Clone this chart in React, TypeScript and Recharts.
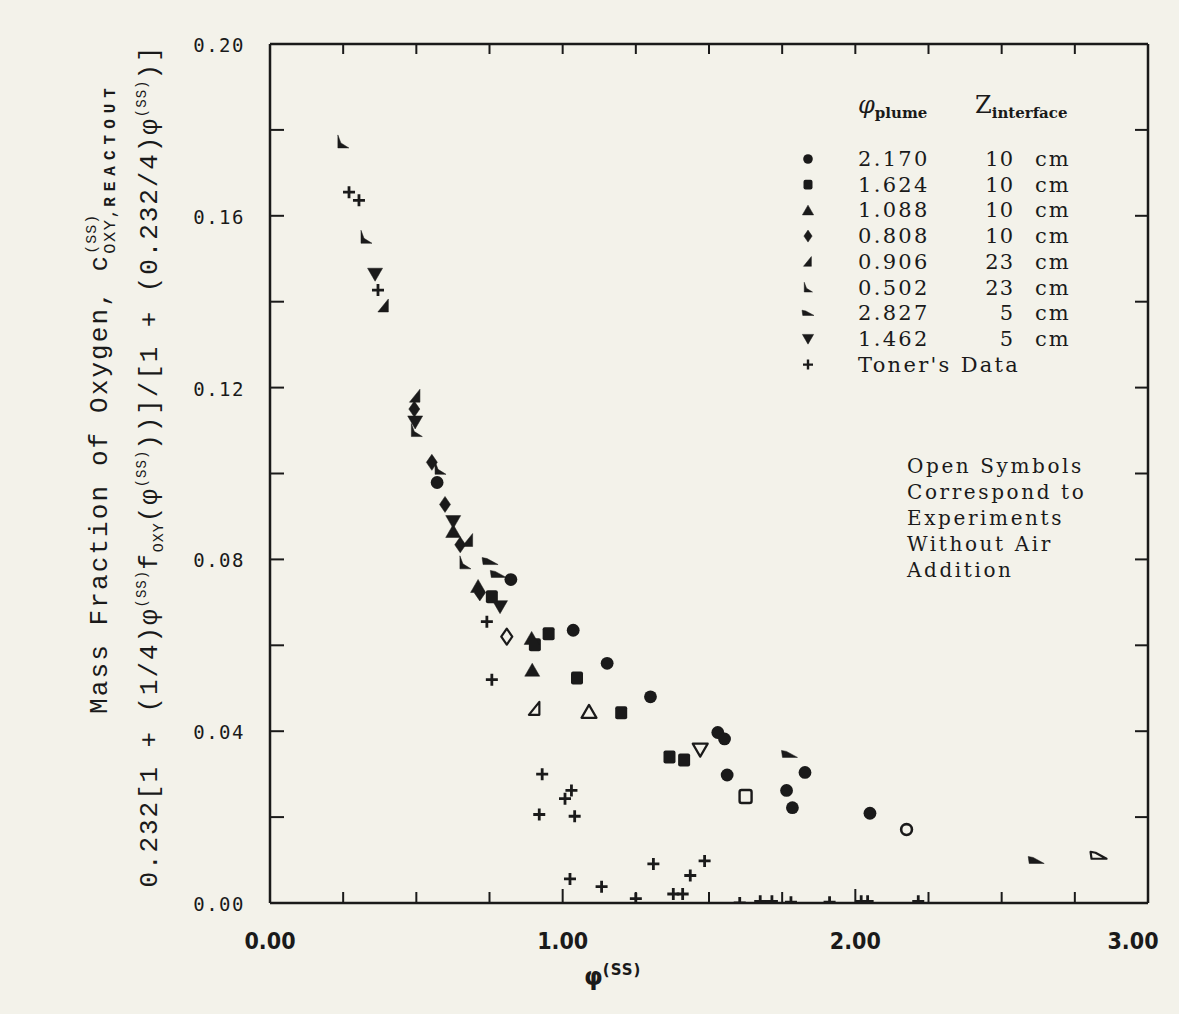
import React from 'react';
import { ScatterChart, Scatter, XAxis, YAxis } from 'recharts';

const W = 1179;
const H = 1014;
const BG = '#f3f2ea';
const INK = '#1a1a1a';

type P = [number, number];

// phi_plume 2.170, Z 10 cm
const s2170: P[] = [[0.571, 0.0979], [0.823, 0.0753], [1.036, 0.0635], [1.152, 0.0558], [1.300, 0.0480], [1.530, 0.0397], [1.553, 0.0382], [1.562, 0.0298], [1.765, 0.0262], [1.785, 0.0222], [1.828, 0.0304], [2.050, 0.0209]];
const s2170Open: P[] = [[2.175, 0.0171]];
// 1.624, 10 cm
const s1624: P[] = [[0.758, 0.0713], [0.905, 0.0601], [0.952, 0.0627], [1.049, 0.0524], [1.200, 0.0443], [1.365, 0.0340], [1.415, 0.0333]];
const s1624Open: P[] = [[1.625, 0.0248]];
// 1.088, 10 cm
const s1088: P[] = [[0.626, 0.0865], [0.711, 0.0737], [0.894, 0.0616], [0.896, 0.0542]];
const s1088Open: P[] = [[1.090, 0.0445]];
// 0.808, 10 cm
const s0808: P[] = [[0.493, 0.1150], [0.553, 0.1026], [0.598, 0.0928], [0.650, 0.0834], [0.717, 0.0722]];
const s0808Open: P[] = [[0.809, 0.0620]];
// 0.906, 23 cm
const s0906: P[] = [[0.389, 0.1390], [0.497, 0.1180], [0.677, 0.0844]];
const s0906Open: P[] = [[0.905, 0.0452]];
// 0.502, 23 cm
const s0502: P[] = [[0.249, 0.1772], [0.328, 0.1550], [0.500, 0.1100], [0.581, 0.1012], [0.666, 0.0792]];
// 2.827, 5 cm
const s2827: P[] = [[0.752, 0.0795], [0.780, 0.0765], [1.775, 0.0346], [2.618, 0.0099]];
const s2827Open: P[] = [[2.831, 0.0110]];
// 1.462, 5 cm
const s1462: P[] = [[0.359, 0.1464], [0.496, 0.1120], [0.626, 0.0888], [0.786, 0.0690]];
const s1462Open: P[] = [[1.470, 0.0357]];
// Toner's data
const toner: P[] = [[0.270, 0.1655], [0.304, 0.1636], [0.369, 0.1427], [0.741, 0.0655], [0.758, 0.0520], [0.930, 0.0300], [1.030, 0.0262], [1.008, 0.0243], [0.920, 0.0206], [1.041, 0.0202], [1.310, 0.0091], [1.485, 0.0098], [1.436, 0.0064], [1.025, 0.0056], [1.133, 0.0038], [1.250, 0.0010], [1.378, 0.0021], [1.410, 0.0021], [1.605, 0.0000], [1.675, 0.0004], [1.715, 0.0004], [1.780, 0.0002], [1.912, 0.0002], [2.020, 0.0004], [2.042, 0.0004], [2.215, 0.0004]];

const xTicks = [0, 0.25, 0.5, 0.75, 1, 1.25, 1.5, 1.75, 2, 2.25, 2.5, 2.75, 3];
const xLabels = ['0.00', '1.00', '2.00', '3.00'];
const yTicks = [0, 0.02, 0.04, 0.06, 0.08, 0.1, 0.12, 0.14, 0.16, 0.18, 0.2];
const yLabels = ['0.00', '0.04', '0.08', '0.12', '0.16', '0.20'];

const legendShapes = ['circle', 'square', 'triUp', 'diamond', 'rtRight', 'rtLeft', 'wedge', 'triDown', 'plus'];
const legendPhi = ['2.170', '1.624', '1.088', '0.808', '0.906', '0.502', '2.827', '1.462', "Toner's Data"];
const legendZ = ['10', '10', '10', '10', '23', '23', '5', '5', ''];
const noteLines = ['Open Symbols', 'Correspond to', 'Experiments', 'Without Air', 'Addition'];

function mark(kind: string, cx: number, cy: number, open: boolean, scale = 1) {
  const fill = open ? BG : INK;
  const sw = open ? 2.2 : 0.5;
  const s = scale;
  const poly = (pts: number[][]) => (
    <polygon
      points={pts.map(([a, b]) => `${cx + a * s},${cy + b * s}`).join(' ')}
      fill={fill}
      stroke={INK}
      strokeWidth={sw}
      strokeLinejoin="round"
    />
  );
  switch (kind) {
    case 'circle':
      return <circle cx={cx} cy={cy} r={open ? 5.4 * s : 6.4 * s} fill={fill} stroke={INK} strokeWidth={open ? 2.6 : 0} />;
    case 'square':
      return <rect x={cx - 6 * s} y={cy - 6.5 * s} width={12 * s} height={13 * s} rx={2} fill={fill} stroke={INK} strokeWidth={open ? 2.4 : 0} />;
    case 'triUp':
      return poly([[0, -7], [7.5, 6], [-7.5, 6]]);
    case 'triDown':
      return poly([[-7.5, -6], [7.5, -6], [0, 7]]);
    case 'diamond':
      return poly([[0, -8], [5.5, 0], [0, 8], [-5.5, 0]]);
    case 'rtRight':
      return poly([[4.5, -7], [4.5, 6], [-6, 6]]);
    case 'rtLeft':
      return poly([[-5, -7], [-2, 1], [6, 6], [-5, 6]]);
    case 'wedge':
      return poly([[-8, -4], [-3, -3], [8, 3], [-7, 3]]);
    case 'plus':
      return (
        <path
          d={`M${cx - 6 * s},${cy} H${cx + 6 * s} M${cx},${cy - 6 * s} V${cy + 6 * s}`}
          stroke={INK}
          strokeWidth={2.8}
          fill="none"
        />
      );
    default:
      return null;
  }
}

const series: { kind: string; open: boolean; pts: P[] }[] = [
  { kind: 'circle', open: false, pts: s2170 },
  { kind: 'circle', open: true, pts: s2170Open },
  { kind: 'square', open: false, pts: s1624 },
  { kind: 'square', open: true, pts: s1624Open },
  { kind: 'triUp', open: false, pts: s1088 },
  { kind: 'triUp', open: true, pts: s1088Open },
  { kind: 'diamond', open: false, pts: s0808 },
  { kind: 'diamond', open: true, pts: s0808Open },
  { kind: 'rtRight', open: false, pts: s0906 },
  { kind: 'rtRight', open: true, pts: s0906Open },
  { kind: 'rtLeft', open: false, pts: s0502 },
  { kind: 'wedge', open: false, pts: s2827 },
  { kind: 'wedge', open: true, pts: s2827Open },
  { kind: 'triDown', open: false, pts: s1462 },
  { kind: 'triDown', open: true, pts: s1462Open },
  { kind: 'plus', open: false, pts: toner },
];

const TICK_FONT = "'DejaVu Sans Mono', monospace";
const XLAB_FONT = "'Liberation Sans Narrow', 'DejaVu Sans Condensed', 'Liberation Sans', sans-serif";
const TYPE_FONT = "'DejaVu Serif', serif";
const MONO_FONT = "'Liberation Mono', 'DejaVu Sans Mono', monospace";

const BottomTick = (p: any) => {
  const v = p.payload.value as number;
  const lab = xLabels.find((l) => Math.abs(parseFloat(l) - v) < 1e-6);
  return (
    <g>
      <line x1={p.x} x2={p.x} y1={p.y} y2={p.y - (lab ? 14 : 11)} stroke={INK} strokeWidth={2} />
      {lab && (
        <text x={p.x + (v === 3 ? -15 : 0)} y={p.y + 38} textAnchor="middle" dominantBaseline="central" fontFamily={XLAB_FONT} fontWeight="bold" fontSize={23} fill={INK}>
          {lab}
        </text>
      )}
    </g>
  );
};
const TopTick = (p: any) => (
  <line x1={p.x} x2={p.x} y1={p.y} y2={p.y + 10} stroke={INK} strokeWidth={2} />
);
const LeftTick = (p: any) => {
  const v = p.payload.value as number;
  const lab = yLabels.find((l) => Math.abs(parseFloat(l) - v) < 1e-6);
  return (
    <g>
      <line x1={p.x} x2={p.x + 14} y1={p.y} y2={p.y} stroke={INK} strokeWidth={2} />
      {lab && (
        <text x={p.x - 25} y={p.y + 1} textAnchor="end" dominantBaseline="central" fontFamily={TICK_FONT} fontSize={19} letterSpacing={1.5} fill={INK}>
          {lab}
        </text>
      )}
    </g>
  );
};
const RightTick = (p: any) => (
  <line x1={p.x} x2={p.x - 13} y1={p.y} y2={p.y} stroke={INK} strokeWidth={2} />
);

const axisLine = { stroke: INK, strokeWidth: 2.5 };
const frame = [{ x: 0, y: 0 }, { x: 3, y: 0.2 }];

export default function App() {
  const rowY0 = 159;
  const rowDy = 25.7;
  return (
    <div style={{ position: 'fixed', left: 0, top: 0, width: '100vw', height: '100vh', background: BG, overflow: 'hidden' }}>
      <div style={{ position: 'absolute', left: 0, top: 0, width: W, height: H }}>
        <ScatterChart width={W} height={H} margin={{ top: 0, right: 0, bottom: 0, left: 0 }}>
          <XAxis xAxisId="b" type="number" dataKey="x" domain={[0, 3]} ticks={xTicks} interval={0} orientation="bottom" height={111} tickSize={0} tickMargin={0} axisLine={axisLine} tickLine={false} tick={(p: any) => <BottomTick {...p} />} allowDataOverflow />
          <XAxis xAxisId="t" type="number" dataKey="x" domain={[0, 3]} ticks={xTicks} interval={0} orientation="top" height={44} tickSize={0} tickMargin={0} axisLine={axisLine} tickLine={false} tick={(p: any) => <TopTick {...p} />} allowDataOverflow />
          <YAxis yAxisId="l" type="number" dataKey="y" domain={[0, 0.2]} ticks={yTicks} interval={0} orientation="left" width={270} tickSize={0} tickMargin={0} axisLine={axisLine} tickLine={false} tick={(p: any) => <LeftTick {...p} />} allowDataOverflow />
          <YAxis yAxisId="r" type="number" dataKey="y" domain={[0, 0.2]} ticks={yTicks} interval={0} orientation="right" width={31} tickSize={0} tickMargin={0} axisLine={axisLine} tickLine={false} tick={(p: any) => <RightTick {...p} />} allowDataOverflow />
          <Scatter xAxisId="t" yAxisId="r" data={frame} shape={() => <g />} isAnimationActive={false} />
          {series.map((s, i) => (
            <Scatter
              key={i}
              xAxisId="b"
              yAxisId="l"
              data={s.pts.map(([x, y]) => ({ x, y }))}
              shape={(p: any) => mark(s.kind, p.cx, p.cy, s.open)}
              isAnimationActive={false}
            />
          ))}
        </ScatterChart>
        <svg width={W} height={H} style={{ position: 'absolute', left: 0, top: 0, pointerEvents: 'none' }}>
          {/* Y axis titles */}
          <text transform="translate(107,398) rotate(-90)" textAnchor="middle" fontFamily={MONO_FONT} fontSize={26} letterSpacing={2.1} fill={INK}>
            Mass Fraction of Oxygen, c
            <tspan dy={-11} fontSize={15} letterSpacing={1}>(SS)</tspan>
            <tspan dx={-40} dy={19} fontSize={17} letterSpacing={1.5}>OXY,</tspan>
            <tspan fontSize={16} letterSpacing={6} fontWeight="bold">REACTOUT</tspan>
          </text>
          <text transform="translate(157,466) rotate(-90)" textAnchor="middle" fontFamily={MONO_FONT} fontSize={26} letterSpacing={1.9} fill={INK}>
            0.232[1 + (1/4)φ
            <tspan dy={-11} fontSize={14} letterSpacing={1}>(SS)</tspan>
            <tspan dy={11}>f</tspan>
            <tspan dy={6} fontSize={15} letterSpacing={1}>OXY</tspan>
            <tspan dy={-6}>(φ</tspan>
            <tspan dy={-11} fontSize={14} letterSpacing={1}>(SS)</tspan>
            <tspan dy={11}>))]/[1 + (0.232/4)φ</tspan>
            <tspan dy={-11} fontSize={14} letterSpacing={1}>(SS)</tspan>
            <tspan dy={11}>)]</tspan>
          </text>
          {/* X axis title */}
          <text x={584} y={985} fontFamily="'DejaVu Sans', sans-serif" fontWeight="bold" fontSize={24} fill={INK}>
            φ<tspan dy={-10} fontSize={15} letterSpacing={1}>(SS)</tspan>
          </text>
          {/* Legend header */}
          <text x={858} y={113} fontFamily={TYPE_FONT} fontSize={24} fill={INK}>
            <tspan fontStyle="italic">φ</tspan>
            <tspan dy={5} fontSize={15} fontWeight="bold">plume</tspan>
            <tspan x={975} dy={-5}>Z</tspan>
            <tspan dy={5} fontSize={15} fontWeight="bold">interface</tspan>
          </text>
          {legendShapes.map((k, i) => {
            const cy = rowY0 + i * rowDy;
            return (
              <g key={k}>
                {k === 'plus' ? (
                  <path d={`M${803},${cy} H${813} M808,${cy - 5} V${cy + 5}`} stroke={INK} strokeWidth={2.4} />
                ) : (
                  mark(k, 808, cy, false, 0.75)
                )}
                <text x={858} y={cy} dominantBaseline="central" fontFamily={TYPE_FONT} fontSize={21} letterSpacing={2.3} fill={INK}>
                  {legendPhi[i]}
                </text>
                {legendZ[i] && (
                  <>
                    <text x={1014} y={cy} textAnchor="end" dominantBaseline="central" fontFamily={TYPE_FONT} fontSize={21} letterSpacing={1} fill={INK}>
                      {legendZ[i]}
                    </text>
                    <text x={1035} y={cy} dominantBaseline="central" fontFamily={TYPE_FONT} fontSize={21} letterSpacing={2} fill={INK}>
                      cm
                    </text>
                  </>
                )}
              </g>
            );
          })}
          {noteLines.map((t, i) => (
            <text key={t} x={907} y={466 + i * 26} dominantBaseline="central" fontFamily={TYPE_FONT} fontSize={20} letterSpacing={2.6} fill={INK}>
              {t}
            </text>
          ))}
        </svg>
      </div>
    </div>
  );
}
